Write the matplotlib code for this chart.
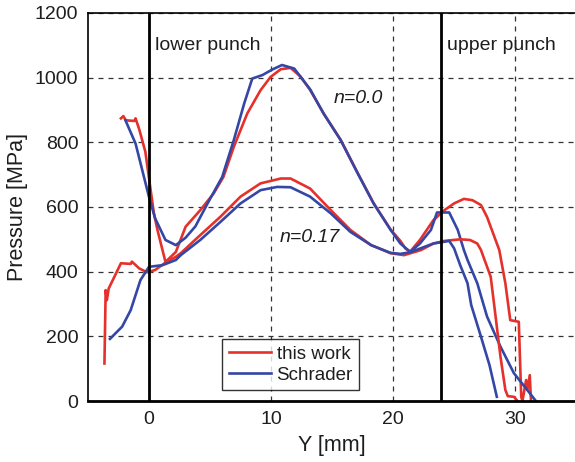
"""
Pressure distribution along the die wall: this work vs. Schrader.
"""

import matplotlib
matplotlib.use('Agg')
import matplotlib.pyplot as plt

plt.rcParams.update({
    'font.family': ['Liberation Sans', 'DejaVu Sans'],
    'font.size': 14,
    'figure.dpi': 100,
})

RED = '#e5312b'
BLUE = '#3447a6'
TXT = '#1e1e1e'

# this work, n = 0.0
work_n0_y = [-2.3, -2.1, -1.9, -1.2, -1.1, -0.8, -0.3, 0.1, 0.4, 0.7, 1.35, 2.2, 3.0,
             4.2, 5.3, 6.1, 6.95, 8.05, 9.14, 9.96, 10.8, 11.6, 12.4, 13.2, 14.3,
             15.7, 17.1, 18.4, 19.8, 20.6, 21.0, 21.4, 22.2, 23.3, 24.2, 25.0, 25.8,
             26.5, 27.2, 27.7, 28.7, 29.2, 29.6, 30.3, 30.5, 30.6, 30.9, 31.0, 31.2,
             31.3]
work_n0_p = [874, 881, 868, 866, 874, 840, 771, 662, 581, 528, 430, 461, 539,
             590, 642, 693, 786, 889, 961, 1002, 1026, 1030, 1004, 962, 890,
             808, 705, 612, 530, 495, 472, 462, 498, 559, 590, 611, 625,
             621, 606, 569, 467, 364, 250, 245, 13, 0, 65, 34, 80,
             0]

# this work, n = 0.17
work_n17_y = [-3.65, -3.55, -3.45, -3.3, -2.3, -1.5, -1.4, -0.8, -0.15, 0.5, 1.35,
              2.2, 2.6, 4.2, 5.86, 7.5, 9.14, 10.8, 11.6, 13.2, 14.9, 16.5, 18.2,
              19.8, 20.9, 22.3, 23.3, 24.2, 25.5, 26.3, 26.9, 27.2, 28.0, 28.4,
              28.8, 29.2, 29.4, 29.9, 30.2]
work_n17_p = [116, 343, 312, 348, 426, 424, 431, 410, 398, 405, 428,
              446, 457, 513, 570, 632, 673, 688, 688, 657, 590, 529, 482,
              457, 451, 467, 487, 495, 500, 498, 487, 467, 384, 261,
              137, 34, 15, 13, 0]

# Schrader, n = 0.0
schr_n0_y = [-1.93, -1.1, 0.0, 0.5, 1.35, 2.2, 3.0, 3.8, 4.8, 6.0, 6.95, 7.8, 8.46,
             9.3, 10.1, 10.9, 11.9, 13.2, 14.3, 15.7, 17.1, 18.4, 19.8, 20.6, 21.4,
             22.2, 23.1, 23.6, 24.6, 25.3, 25.8, 26.1, 26.9, 27.7, 28.8, 29.9,
             31.0, 31.7]
schr_n0_p = [868, 796, 631, 565, 498, 482, 505, 540, 611, 693, 807, 920, 997,
             1008, 1025, 1039, 1028, 964, 889, 807, 704, 611, 529, 487, 461,
             487, 529, 583, 583, 529, 467, 436, 364, 261, 168, 86,
             34, 0]

# Schrader, n = 0.17
schr_n17_y = [-3.2, -2.2, -1.5, -0.7, 0.0, 1.1, 2.2, 2.6, 4.2, 5.86, 7.5, 9.14,
              10.5, 11.6, 13.2, 14.9, 16.5, 18.2, 19.8, 20.6, 21.4, 23.3, 24.6,
              25.0, 25.5, 26.1, 26.4, 27.2, 27.9, 28.5]
schr_n17_p = [192, 230, 281, 374, 415, 420, 436, 451, 498, 554, 611, 652,
              662, 661, 632, 580, 523, 482, 458, 455, 460, 487, 495,
              472, 420, 364, 297, 199, 111, 13]

punch_pos = [0.0, 23.9]
punch_labels = ['lower punch', 'upper punch']

fig = plt.figure(figsize=(5.75, 4.62))
ax = fig.add_axes([0.153, 0.132, 0.849, 0.840])

lw = 1.9
ax.plot(work_n0_y, work_n0_p, color=RED, lw=lw, label='this work')
ax.plot(schr_n0_y, schr_n0_p, color=BLUE, lw=lw, label='Schrader')
ax.plot(work_n17_y, work_n17_p, color=RED, lw=lw)
ax.plot(schr_n17_y, schr_n17_p, color=BLUE, lw=lw)

for xp, lab in zip(punch_pos, punch_labels):
    ax.axvline(xp, color='black', lw=2.0, zorder=3)
    ax.text(xp + 0.5, 1100, lab, va='center', ha='left', fontsize=14, color=TXT)

ax.text(15.1, 935, 'n=0.0', style='italic', va='center', fontsize=14, color=TXT)
ax.text(10.7, 505, 'n=0.17', style='italic', va='center', fontsize=14, color=TXT)

ax.set_xlim(-5, 35)
ax.set_ylim(0, 1200)
ax.set_xticks([0, 10, 20, 30])
ax.set_yticks(range(0, 1201, 200))
ax.grid(True, color='#333333', linestyle=(0, (4, 4)), linewidth=0.9)
ax.tick_params(length=0, pad=7, labelsize=14, labelcolor=TXT)
for s in ax.spines.values():
    s.set_linewidth(1.2)
ax.spines['bottom'].set_linewidth(2.0)

ax.set_xlabel('Y [mm]', fontsize=15.5, labelpad=5, color=TXT)
ax.set_ylabel('Pressure [MPa]', fontsize=15.5, labelpad=5, color=TXT)

leg = ax.legend(loc='lower left', bbox_to_anchor=(0.275, 0.028), borderaxespad=0,
                fontsize=13.5, frameon=True, fancybox=False, handlelength=2.25,
                borderpad=0.35, labelspacing=0.2, handletextpad=0.3)
leg.get_frame().set_edgecolor('black')
leg.get_frame().set_linewidth(1.0)
for t in leg.get_texts():
    t.set_color(TXT)

plt.savefig('out.png', dpi=100)
plt.close()
